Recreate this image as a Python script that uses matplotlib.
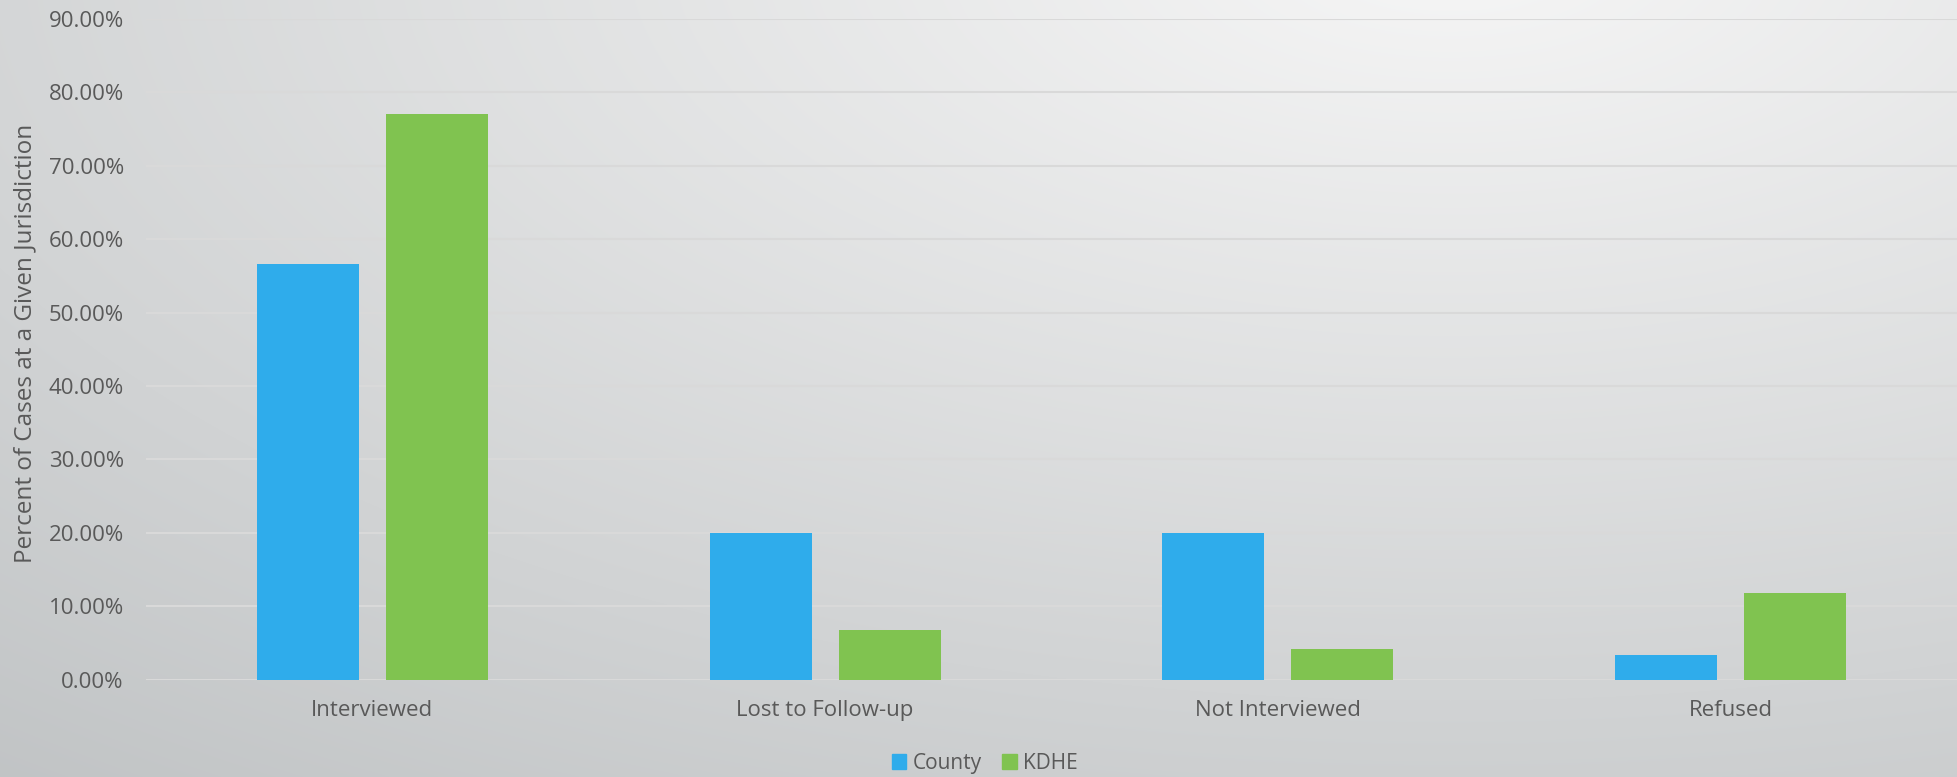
import numpy as np
import matplotlib
matplotlib.use("Agg")
import matplotlib.pyplot as plt
from matplotlib.patches import Patch
from matplotlib.ticker import FuncFormatter, MultipleLocator

# Case disposition shares by jurisdiction (percent)
categories = ["Interviewed", "Lost to Follow-up", "Not Interviewed", "Refused"]
county = [56.67, 20.00, 20.00, 3.33]
kdhe = [77.1, 6.7, 4.2, 11.8]
series_names = ["County", "KDHE"]

BLUE = "#2FACEB"
GREEN = "#80C350"
TEXT = "#595959"
GRID = "#D9D9D9"

plt.rcParams["font.family"] = ["Open Sans", "DejaVu Sans"]

W, H = 1958, 777
fig = plt.figure(figsize=(W / 100, H / 100), dpi=100)

# soft elliptical backdrop: bright near the top right, darker toward bottom left
bg = fig.add_axes([0, 0, 1, 1], zorder=-10)
yy, xx = np.mgrid[0:H, 0:W]
d = np.sqrt(((xx - 1450) / 1600.0) ** 2 + ((yy + 50) / 750.0) ** 2)
base = np.clip(246 - 34 * d, 185, 246)
img = np.dstack([base - 3 * d, base - 1 * d, base]) / 255.0
bg.imshow(np.clip(img, 0, 1), aspect="auto", extent=[0, 1, 0, 1], origin="upper")
bg.axis("off")

ax = fig.add_axes([146 / W, 97.5 / H, 1811 / W, 660.5 / H])
ax.set_facecolor("none")

x = np.arange(len(categories))
bw = 0.225
off = 0.1425
ax.bar(x - off, county, bw, color=BLUE, zorder=3)
ax.bar(x + off, kdhe, bw, color=GREEN, zorder=3)

ax.set_xlim(-0.5, len(categories) - 0.5)
ax.set_ylim(0, 90)
ax.yaxis.set_major_locator(MultipleLocator(10))
ax.yaxis.set_major_formatter(FuncFormatter(lambda v, _: f"{v:.2f}%"))
ax.grid(axis="y", color=GRID, lw=1.5, zorder=0)
ax.set_axisbelow(True)

ax.set_xticks(x)
ax.set_xticklabels(categories)
ax.tick_params(axis="both", length=0, labelsize=16, colors=TEXT)
ax.tick_params(axis="y", pad=16)
ax.tick_params(axis="x", pad=15)
for s in ax.spines.values():
    s.set_visible(False)

ax.set_ylabel("Percent of Cases at a Given Jurisdiction", fontsize=17.5,
              color=TEXT, va="center")
ax.yaxis.set_label_coords(-0.0668, 0.509)

handles = [Patch(color=BLUE, label=series_names[0]),
           Patch(color=GREEN, label=series_names[1])]
leg = fig.legend(handles=handles, loc="center", bbox_to_anchor=(0.503, 0.018),
                 ncol=2, frameon=False, fontsize=15, handlelength=0.7,
                 handleheight=0.7, handletextpad=0.3, columnspacing=1.0,
                 borderpad=0, borderaxespad=0)
for t in leg.get_texts():
    t.set_color(TEXT)

fig.savefig("out.png", dpi=100)
